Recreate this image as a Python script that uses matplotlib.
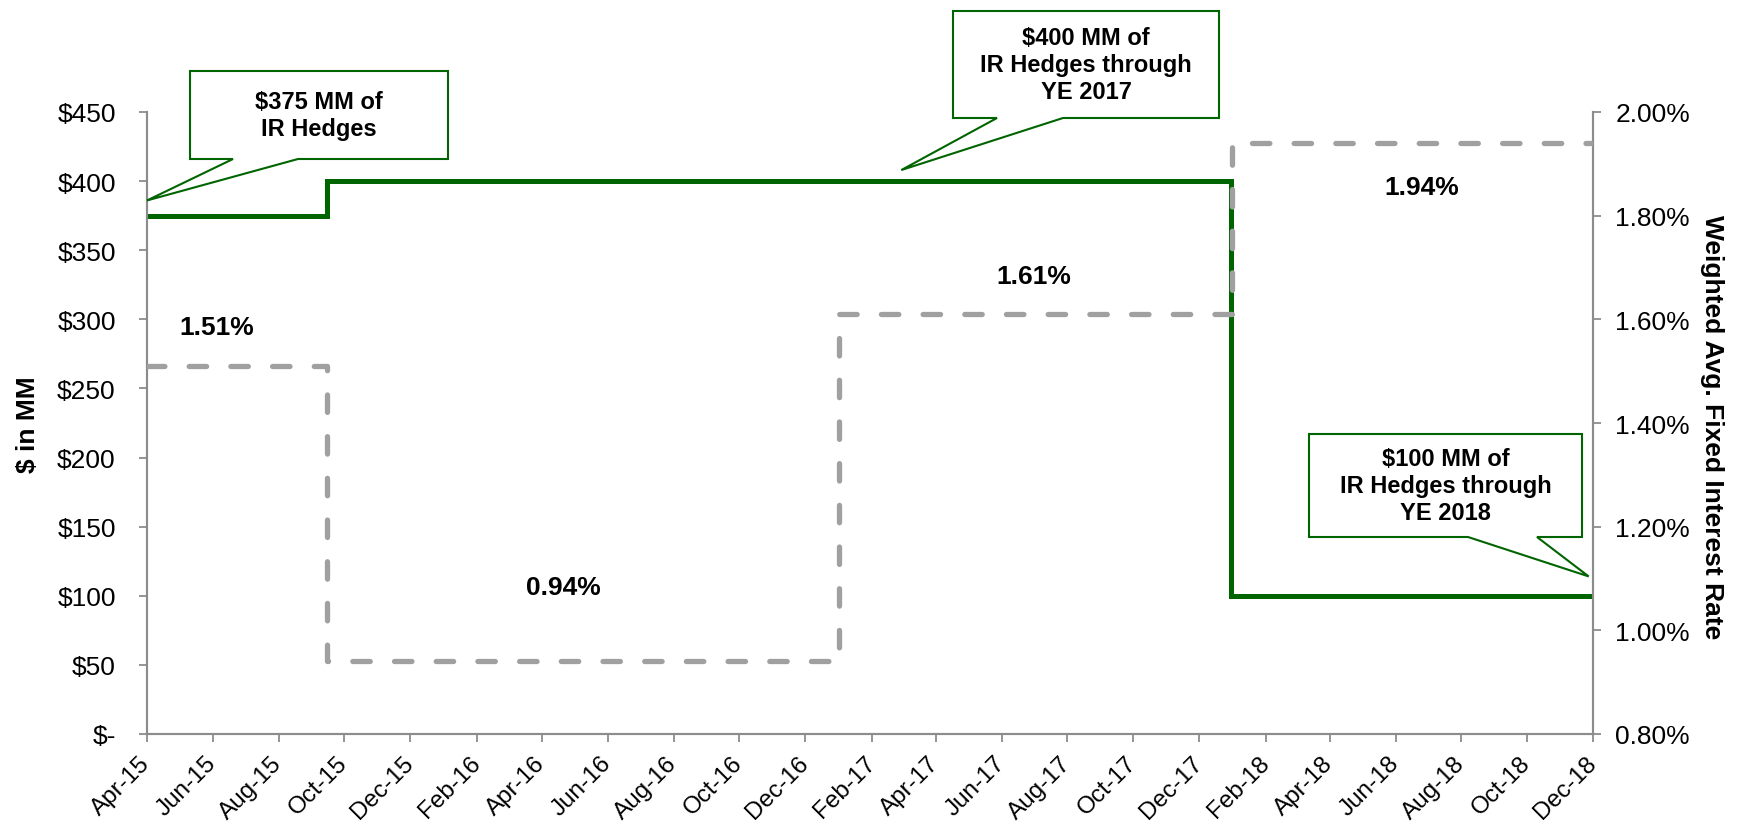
import matplotlib
matplotlib.use('Agg')
import matplotlib.pyplot as plt
import matplotlib.dates as mdates
from matplotlib.patches import Polygon
import numpy as np
import datetime as dt

plt.rcParams['font.family'] = ['Liberation Sans', 'DejaVu Sans']

# ---------------- data ----------------
hedge_dates = ['2015-04-01', '2015-09-15', '2017-12-31', '2018-12-01']
hedge_amounts = [375, 400, 100, 100]

rate_dates = ['2015-04-01', '2015-09-15', '2017-01-01', '2017-12-31', '2018-12-01']
rates = [1.51, 0.94, 1.61, 1.94, 1.94]

rate_labels = ['1.51%', '0.94%', '1.61%', '1.94%']
rate_label_dates = ['2015-06-05', '2016-04-21', '2017-07-01', '2018-06-25']
rate_label_vals = [1.585, 1.084, 1.684, 1.855]

left_ticks = [0, 50, 100, 150, 200, 250, 300, 350, 400, 450]
left_tick_labels = ['$-', '$50', '$100', '$150', '$200', '$250', '$300', '$350', '$400', '$450']
right_ticks = [0.8, 1.0, 1.2, 1.4, 1.6, 1.8, 2.0]
right_tick_labels = ['0.80%', '1.00%', '1.20%', '1.40%', '1.60%', '1.80%', '2.00%']

callout_texts = ['$375 MM of\nIR Hedges',
                 '$400 MM of\nIR Hedges through\nYE 2017',
                 '$100 MM of\nIR Hedges through\nYE 2018']
callout_tip_dates = ['2015-04-01', '2017-02-28', '2018-11-27']
callout_tip_vals = [386, 408, 114]

# ---------------- layout ----------------
W, H = 1737, 829
fig = plt.figure(figsize=(W / 100, H / 100), dpi=100)
fig.patch.set_facecolor('white')

L, R, T, B = 147, 1593, 113, 735
ax = fig.add_axes([L / W, 1 - B / H, (R - L) / W, (B - T) / H])
ax2 = ax.twinx()

GREEN = '#006400'
GRAY = '#A0A0A0'
SPINE = '#8C8C8C'

hd = [dt.datetime.strptime(d, '%Y-%m-%d') for d in hedge_dates]
rd = [dt.datetime.strptime(d, '%Y-%m-%d') for d in rate_dates]

ax.plot(hd, hedge_amounts, drawstyle='steps-post', color=GREEN, lw=3.6,
        solid_joinstyle='miter', zorder=3)
ln, = ax2.plot(rd, rates, drawstyle='steps-post', color=GRAY, lw=3.8,
               dash_capstyle='round', zorder=3)
ln.set_dashes([3.3, 4.6])

ax.set_xlim(dt.datetime(2015, 4, 1), dt.datetime(2018, 12, 1))
ax.set_ylim(0, 450)
ax2.set_ylim(0.8, 2.0)

ax.xaxis.set_major_locator(mdates.MonthLocator(bymonth=[2, 4, 6, 8, 10, 12]))
ax.xaxis.set_major_formatter(mdates.DateFormatter('%b-%y'))

ax.set_yticks(left_ticks)
ax.set_yticklabels(left_tick_labels)
ax2.set_yticks(right_ticks)
ax2.set_yticklabels(right_tick_labels)

for a in (ax, ax2):
    a.spines['top'].set_visible(False)
    for s in ['left', 'right', 'bottom']:
        a.spines[s].set_color(SPINE)
        a.spines[s].set_linewidth(1.5)

ax.tick_params(axis='y', direction='out', length=6, width=1.3, color=SPINE,
               labelsize=19, pad=16.5)
ax.tick_params(axis='x', direction='out', length=6, width=1.3, color=SPINE,
               labelsize=17.5, pad=12.5)
ax2.tick_params(axis='y', direction='out', length=6, width=1.3, color=SPINE,
                labelsize=19, pad=10)

for lbl in ax.get_xticklabels():
    lbl.set_rotation(45)
    lbl.set_ha('right')
    lbl.set_va('center')
    lbl.set_rotation_mode('anchor')

fig.text(28 / W, 1 - 425 / H, '$ in MM', rotation=90, ha='center', va='center',
         fontsize=19, fontweight='bold')
fig.text(1712 / W, 1 - 427 / H, 'Weighted Avg. Fixed Interest Rate', rotation=-90,
         ha='center', va='center', fontsize=19, fontweight='bold')

for txt, d, v in zip(rate_labels, rate_label_dates, rate_label_vals):
    ax2.text(dt.datetime.strptime(d, '%Y-%m-%d'), v, txt, ha='center', va='center',
             fontsize=19, fontweight='bold', zorder=5)

# callouts: box in figure pixels, pointer tip anchored to data
boxes = [(190, 72, 448, 160), (953, 12, 1219, 119), (1309, 435, 1582, 538)]
bases = [(233, 298), (997, 1063), (1468, 1537)]

def fig_frac(x, y):
    return (x / W, 1 - y / H)

for txt, box, base, td, tv in zip(callout_texts, boxes, bases,
                                  callout_tip_dates, callout_tip_vals):
    x0, y0, x1, y1 = box
    tip_disp = ax.transData.transform(
        (mdates.date2num(dt.datetime.strptime(td, '%Y-%m-%d')), tv))
    tip = fig.transFigure.inverted().transform(tip_disp)
    verts = [fig_frac(x0, y0), fig_frac(x1, y0), fig_frac(x1, y1),
             fig_frac(base[1], y1), tuple(tip), fig_frac(base[0], y1),
             fig_frac(x0, y1)]
    poly = Polygon(verts, closed=True, facecolor='white', edgecolor=GREEN,
                   lw=1.5, transform=fig.transFigure, zorder=10)
    fig.patches.append(poly)
    cx, cy = fig_frac((x0 + x1) / 2, (y0 + y1) / 2)
    fig.text(cx, cy, txt, ha='center', va='center', fontsize=17,
             fontweight='bold', linespacing=1.2, zorder=11)

fig.savefig('out.png', dpi=100, facecolor='white')
